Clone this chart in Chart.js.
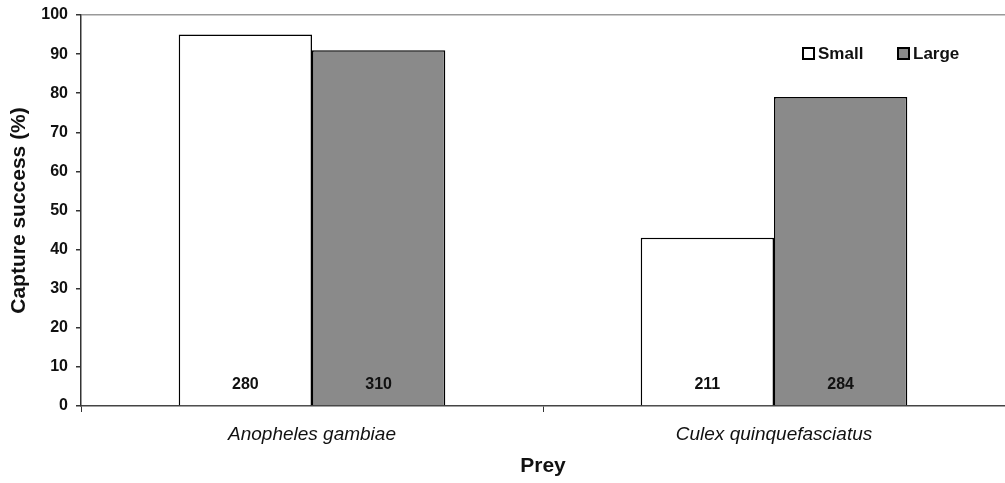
<!DOCTYPE html>
<html>
<head>
<meta charset="utf-8">
<script src="https://cdn.jsdelivr.net/npm/chart.js@4"></script>
<style>
  html, body { margin: 0; padding: 0; background: #fff; }
  #wrap { width: 1005px; height: 483px; }
</style>
</head>
<body>
<div id="wrap"><canvas id="chart"></canvas></div>
<script>
// data
const categories = ['Anopheles gambiae', 'Culex quinquefasciatus'];
const seriesNames = ['Small', 'Large'];
const smallValues = [95, 43];
const largeValues = [91, 79];
const smallCounts = [280, 211];
const largeCounts = [310, 284];
const yTicks = [0, 10, 20, 30, 40, 50, 60, 70, 80, 90, 100];

const FONT = 'Liberation Sans, Arial, sans-serif';
const fillColors = ['#ffffff', '#8a8a8a'];

// n values near bottom of bars
const countLabels = {
  id: 'countLabels',
  afterDatasetsDraw(chart) {
    const ctx = chart.ctx;
    const y = chart.scales.y;
    const counts = [smallCounts, largeCounts];
    ctx.save();
    ctx.font = 'bold 16px ' + FONT;
    ctx.fillStyle = '#111';
    ctx.textAlign = 'center';
    ctx.textBaseline = 'middle';
    chart.data.datasets.forEach((ds, i) => {
      chart.getDatasetMeta(i).data.forEach((bar, j) => {
        ctx.fillText(counts[i][j], bar.x, y.getPixelForValue(0) - 21);
      });
    });
    ctx.restore();
  }
};

// legend drawn inside plot, top right
const insideLegend = {
  id: 'insideLegend',
  afterDraw(chart) {
    const ctx = chart.ctx;
    const items = [{ x: 803, text: seriesNames[0] }, { x: 898, text: seriesNames[1] }];
    ctx.save();
    ctx.font = 'bold 17px ' + FONT;
    ctx.textBaseline = 'middle';
    items.forEach((it, i) => {
      ctx.fillStyle = fillColors[i];
      ctx.fillRect(it.x, 48, 11, 11);
      ctx.strokeStyle = '#000';
      ctx.lineWidth = 2;
      ctx.strokeRect(it.x, 48, 11, 11);
      ctx.fillStyle = '#111';
      ctx.fillText(it.text, it.x + 15, 54);
    });
    ctx.restore();
  }
};

new Chart(document.getElementById('chart'), {
  type: 'bar',
  data: {
    labels: categories,
    datasets: [
      { label: seriesNames[0], data: smallValues, backgroundColor: fillColors[0], borderColor: '#000', borderWidth: 1.5 },
      { label: seriesNames[1], data: largeValues, backgroundColor: fillColors[1], borderColor: '#000', borderWidth: 1.5 }
    ]
  },
  options: {
    responsive: true,
    maintainAspectRatio: false,
    animation: false,
    layout: { padding: { top: 15, right: 0, left: 0, bottom: 0 } },
    datasets: { bar: { categoryPercentage: 0.577, barPercentage: 1.0 } },
    plugins: { legend: { display: false }, tooltip: { enabled: false } },
    scales: {
      x: {
        afterFit(axis) { axis.height = 77; },
        grid: { offset: true, drawOnChartArea: false, tickLength: 6, color: '#333' },
        border: { color: '#444', width: 1.5 },
        ticks: { color: '#111', font: { family: FONT, size: 19, style: 'italic' }, padding: 11 },
        title: { display: true, text: 'Prey', color: '#111', font: { family: FONT, size: 21, weight: 'bold' }, padding: { top: 0, bottom: 4 } }
      },
      y: {
        min: 0, max: 100,
        afterFit(axis) { axis.width = 81; axis.paddingTop = 0; axis.paddingBottom = 0; },
        afterBuildTicks(axis) { axis.ticks = yTicks.map(v => ({ value: v })); },
        grid: {
          color: ctx => ctx.tick && ctx.tick.value === 100 ? '#999' : 'rgba(0,0,0,0)',
          tickColor: '#333',
          tickLength: 5,
          lineWidth: 1.5
        },
        border: { color: '#333', width: 1.5 },
        ticks: { color: '#111', font: { family: FONT, size: 16, weight: 'bold' }, padding: 8 },
        title: { display: true, text: 'Capture success (%)', color: '#111', font: { family: FONT, size: 21, weight: 'bold' }, padding: { top: 7, bottom: 0 } }
      }
    }
  },
  plugins: [countLabels, insideLegend]
});
</script>
</body>
</html>
